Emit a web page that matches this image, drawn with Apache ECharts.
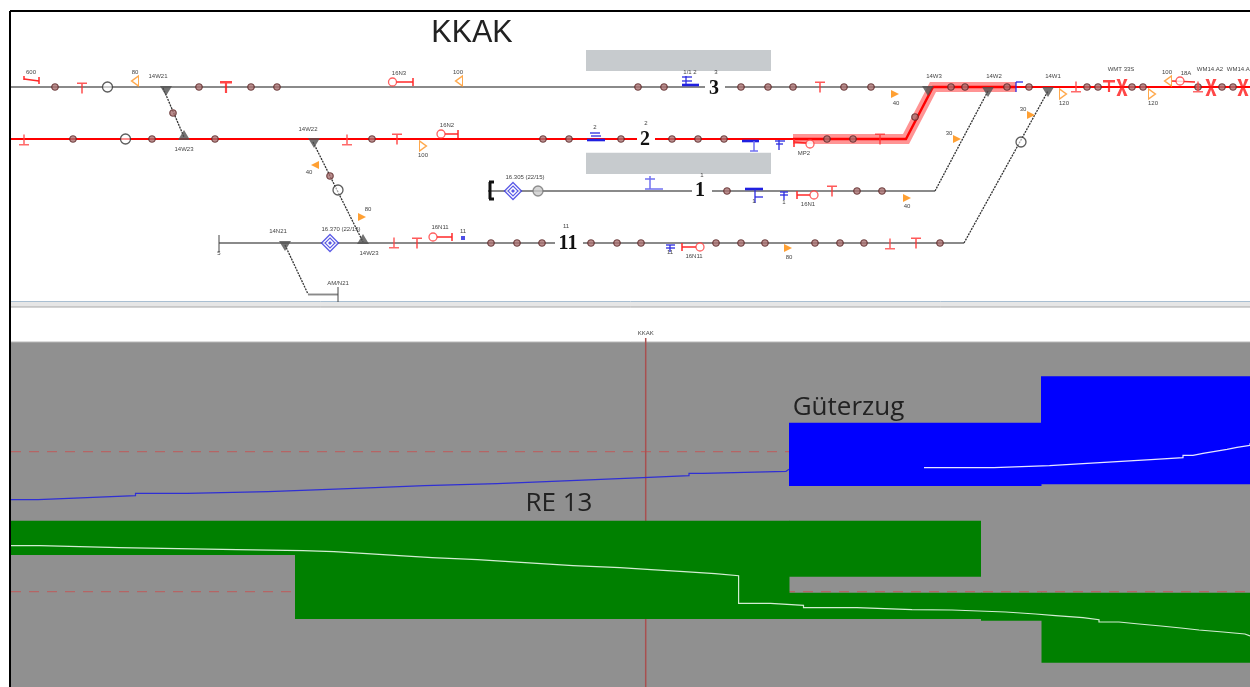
<!DOCTYPE html>
<html><head><meta charset="utf-8">
<script src="https://cdn.jsdelivr.net/npm/echarts@6/dist/echarts.min.js"></script>
<style>html,body{margin:0;padding:0;background:#fff}#c{width:1250px;height:687px;filter:blur(0.5px)}</style>
</head><body><div id="c"></div>
<script>
// ---------- lower panel: blocks [x1,y1,x2,y2] ----------
const panelRect=[[11,342,1250,687]];
const separatorRect=[[11,302,1250,307]];
const blueBlocks=[[789,422.7,1041.5,486],[1041,376.3,1250,484.3]];
const greenBlocks=[[11,520.7,295,555],[295,520.7,789.5,619],[789,520.7,981,576.7],[789,592.7,981.5,619],[981,592.7,1042,620.7],[1041.5,592.7,1250,662.7]];
const platforms=[[586,50,771,71],[586,152.7,771,174]];
// ---------- speed/position curves (stepped) ----------
const blueStepX=[11,38,87,135.5,187,268,322,375,424.5,497,546,595,643,689,703,786,789];
const blueStepY=[499.7,497.7,495.7,493.3,491.7,489.7,487.7,485.7,483.7,481.7,479.7,477.7,475.7,473.3,471.3,469.3,469.3];
const whiteStepX=[924,994,1049.5,1083,1117,1151,1183,1193,1203,1215,1227,1237,1250];
const whiteStepY=[467.7,465.7,463.7,461.7,459.7,457.7,455.3,453.3,451.3,449.3,447.3,445.3,443.3];
const greenStepX=[11,40,119,237,303,334,367,399,432,477.5,509,541,573,620,651,684,715,738.6,770.5,803.5,857,912,952,1005.6,1035.5,1055.5,1083,1099,1119,1139,1161,1181,1199,1223,1245,1250];
const greenStepY=[545.7,547.7,549.7,550.7,551.7,553.7,555.7,557.7,559.7,561.7,563.7,565.7,567.7,569.7,571.7,573.7,575.7,603.3,605.3,607.7,609.7,610,612,614,615.7,617.7,619.7,622,624,626,628,630,632,634,636,636];
const dashRows=[[[11,451.7],[1250,451.7]],[[11,591.7],[1250,591.7]]];
const stationLine=[[[645.7,338],[645.7,687]]];
// ---------- tracks ----------
const greyTracks=[[[11,87],[705,87]],[[725,87],[933,87]],[[488,191],[692,191]],[[712,191],[935,191]],[[219,243],[555,243]],[[583,243],[964,243]],[[308,294.5],[338,294.5]]];
const thinRed=[[[11,139],[637,139]],[[655,139],[793,139]],[[1015,87],[1250,87]]];
const routeRed=[[793,139],[906,139],[933,87],[1016,87]];
const dottedBranches=[[[163,88],[184,137]],[[313,142],[363,242]],[[285,245],[308,294]],[[935,191],[988,91]],[[964,243],[1048,91]]];
const endTicks=[[[219,235],[219,252]],[[338,287],[338,302]]];
// ---------- track symbols ----------
const axleCounters=[[55,87],[199,87],[251,87],[277,87],[638,87],[664,87],[741,87],[768,87],[793,87],[844,87],[871,87],[951,87],[965,87],[1007,87],[1029,87],[1087,87],[1098,87],[1132,87],[1143,87],[1198,87],[1222,87],[1233,87],
[73,139],[152,139],[215,139],[372,139],[543,139],[569,139],[621,139],[672,139],[698,139],[724,139],[827,139],[853,139],[915,117],[173,113],[330,176],
[727,191],[857,191],[882,191],[491,243],[517,243],[542,243],[591,243],[617,243],[641,243],[716,243],[741,243],[765,243],[815,243],[840,243],[864,243],[940,243]];
const darkRings=[[107.5,87],[125.5,139],[338,190],[1021,142]];
const greyRings=[[538,191]];
const blueDiamonds=[[513,191],[330,243]];
const triDown=[[166,91],[314,143],[285,246],[928,91],[988,92],[1048,92]];
const triUp=[[184,135],[363,239]];
const tThin=[[82,88],[397,139],[820,87],[832,191],[880,139],[417,243],[916,243]];
const tBold=[[226,87],[1109,86]];
const tInverted=[[24,140],[347,140],[394,243],[890,244],[1076,87],[1198,87]];
const crossMarks=[[1122,87.5],[1211,87.5],[1243,87.5]];
const signalHeads=[[392.5,82],[441,134],[433,237],[810,144],[814,195],[700,247],[1180,81]];
const signalArms=[[[396,82],[413,82]],[[413,78],[413,86]],[[445,134],[458,134]],[[458,130],[458,138]],[[437,237],[452,237]],[[452,233],[452,241]],[[794,142],[806,143]],[[794,139],[794,147]],[[797,195],[810,195]],[[797,191],[797,199]],[[682,247],[696,247]],[[682,243],[682,251]],[[24,79],[39,81]],[[24,76],[24,80]],[[39,77],[39,84]],[[1172,81],[1195,82]]];
const orangeOpenLeft=[[135,81],[459,81],[1168,81]];
const orangeOpenRight=[[423,146],[1063,94],[1152,94]];
const orangeFillLeft=[[315,165]];
const orangeFillRight=[[362,217],[788,248],[895,94],[957,139],[907,198],[1031,115]];
const blueThick=[[[587,140],[605,140]],[[682,85],[699,85]],[[742,141],[759,141]],[[745,189],[763,189]]];
const blueThin=[[[590,133],[600,133]],[[591,136],[601,136]],[[686,76],[686,84]],[[682,77],[692,77]],[[682,81],[692,81]],[[775,141],[785,141]],[[776,144],[783,144]],[[779,140],[779,150]],[[755,197],[763,197]],[[755,189],[755,203]],[[780,192],[788,192]],[[780,195],[788,195]],[[784,192],[784,200]],[[666,245],[675,245]],[[666,248],[675,248]],[[670,245],[670,252]],[[1016,82],[1016,92]],[[1016,82],[1023,82]]];
const bluePale=[[[645,189],[663,189]],[[650,176],[650,189]],[[645,179],[655,179]],[[750,151],[758,151]],[[754,141],[754,151]]];
const blueSquares=[[463,238]];
const buffers=[[[490,182],[490,199]],[[489,182],[494,182]],[[489,199],[494,199]]];
// ---------- texts ----------
const smallLabels=[[31,72,'600'],[135,72,'80'],[158,76,'14W21'],[399,73,'16N3'],[308,129,'14W22'],[184,149,'14W23'],[309,172,'40'],[368,209,'80'],[278,231,'14N21'],[341,229,'16.370 (22/15)'],[369,253,'14W23'],[219,253,'5'],[338,283,'AM/N21'],
[458,72,'100'],[690,72,'1/1 2'],[716,72,'3'],[447,125,'16N2'],[423,155,'100'],[595,127,'2'],[646,123,'2'],[804,153,'MP2'],[525,177,'16.305 (22/15)'],[808,204,'16N1'],[702,175,'1'],[440,227,'16N11'],[463,231,'11'],[566,226,'11'],[694,256,'16N11'],[670,252,'11'],[789,257,'80'],[754,201,'1'],[784,202,'1'],
[934,76,'14W3'],[994,76,'14W2'],[1053,76,'14W1'],[896,103,'40'],[949,133,'30'],[1023,109,'30'],[907,206,'40'],[1064,103,'120'],[1153,103,'120'],[1121,69,'WMT 33S'],[1167,72,'100'],[1186,73,'18A'],[1210,69,'WM14.A2'],[1240,69,'WM14.A3'],[645.7,333,'KKAK']];
const trackNumbers=[[714,89,'3'],[645,140,'2'],[700,191,'1'],[568,244,'11']];
const titleText=[[472,34,'KKAK']];
const trainNames=[[559,504,'RE 13'],[848.5,408,'Güterzug']];

// ---------- drawing helpers ----------
const common={silent:true,animation:false,coordinateSystem:'cartesian2d',clip:true};
function rects(arr,color,z){return {...common,type:'custom',z,data:arr,encode:{x:[0,2],y:[1,3]},
  renderItem(p,api){const a=api.coord([api.value(0),api.value(1)]),b=api.coord([api.value(2),api.value(3)]);
    return {type:'rect',shape:{x:a[0],y:a[1],width:b[0]-a[0],height:b[1]-a[1]},style:{fill:color}};}};}
function segs(arr,color,w,z,dash){return {...common,type:'custom',z,data:arr.map(s=>[s[0][0],s[0][1],s[1][0],s[1][1]]),encode:{x:[0,2],y:[1,3]},
  renderItem(p,api){const a=api.coord([api.value(0),api.value(1)]),b=api.coord([api.value(2),api.value(3)]);
    return {type:'line',shape:{x1:a[0],y1:a[1],x2:b[0],y2:b[1]},style:{stroke:color,lineWidth:w,lineDash:dash||null}};}};}
function poly(pts,color,w,z,step){return {...common,type:'line',z,data:pts,symbol:'none',step:step||false,lineStyle:{color,width:w,cap:'butt',join:'miter'}};}
function marks(arr,symbol,size,style,z){return {...common,type:'scatter',z,data:arr,symbol,symbolSize:size,itemStyle:style};}
function texts(arr,font,color,z){return {...common,type:'custom',z,data:arr.map(t=>[t[0],t[1]]),encode:{x:0,y:1},
  renderItem(p,api){const a=api.coord([api.value(0),api.value(1)]);
    return {type:'text',x:a[0],y:a[1],style:{text:arr[p.dataIndex][2],font,fill:color,align:'center',verticalAlign:'middle'}};}};}
const zip=(xs,ys)=>xs.map((x,i)=>[x,ys[i]]);
const pT='path://M0 0H10V1.6H5.8V12H4.2V1.6H0Z', pTB='path://M0 0H10V2.6H5.9V12H4.1V2.6H0Z', pTI='path://M4.2 0H5.8V10.4H10V12H0V10.4H4.2Z';
const pX='path://M0 0L3 0L5 6L7 0L10 0L6.5 8L10 16L7 16L5 10L3 16L0 16L3.5 8Z';
const pR='path://M0 0L10 5L0 10Z', pL='path://M10 0L0 5L10 10Z';
const hollow=(c,w)=>({color:'#fff',borderColor:c,borderWidth:w});
const solid=c=>({color:c});

const series=[
  rects(platforms,'#c7cbce',1),
  rects(separatorRect,'#e6e6e6',1),
  segs([[[11,301.5],[1250,301.5]]],'#a9bfd2',1,1),
  segs([[[11,307],[1250,307]]],'#a8a8a8',1,1),
  rects(panelRect,'#909090',1),
  segs([[[11,342],[1250,342]]],'#b8b8b8',1,2),
  segs(dashRows,'#b56565',1.2,2,[10,8]),
  segs(stationLine,'#a85050',1.5,2),
  rects(greenBlocks,'#008000',3),
  rects(blueBlocks,'#0000ff',3),
  poly(zip(blueStepX,blueStepY),'#2f2fd4',1.2,4,'end'),
  poly(zip(whiteStepX,whiteStepY),'#e6e6ff',1.2,4,'end'),
  poly(zip(greenStepX,greenStepY),'#d2ecd2',1.2,4,'end'),
  // tracks
  segs(greyTracks,'#8a8a8a',1.9,5),
  segs(thinRed,'#ff0000',2,6),
  poly(routeRed,'rgba(255,0,0,0.42)',10,5),
  poly(routeRed,'#ff0000',2.4,6),
  segs(dottedBranches,'#333333',1.3,5,[2,1]),
  segs(endTicks,'#444444',1,5),
  marks(triDown,'path://M0 0H10L5 10Z',[12,10],solid('#505050'),7),
  marks(triUp,'path://M5 0L10 10H0Z',[12,10],solid('#505050'),7),
  marks(axleCounters,'circle',6.5,{color:'#a87070',borderColor:'#5a2626',borderWidth:1.2},8),
  marks(darkRings,'circle',10,{color:'rgba(255,255,255,0.7)',borderColor:'#333',borderWidth:1.3},8),
  marks(greyRings,'circle',10,{color:'#cccccc',borderColor:'#777',borderWidth:1.3},8),
  marks(blueDiamonds,'diamond',17,hollow('#3232e0',1.3),8),
  marks(blueDiamonds,'diamond',10,hollow('#3232e0',1.1),9),
  marks(blueDiamonds,'diamond',4,solid('#3232e0'),10),
  marks(tThin,pT,[10,11],solid('#ff3030'),8),
  marks(tBold,pTB,[12,12],solid('#ff1818'),8),
  marks(tInverted,pTI,[10,11],solid('#ff4545'),8),
  marks(crossMarks,pX,[11,17],solid('#ff1818'),8),
  segs(signalArms,'#ff2828',1.5,8),
  marks(signalHeads,'circle',8,hollow('#ff3838',1.3),8),
  marks(orangeOpenLeft,pL,[7,10],hollow('#ff9420',1.2),8),
  marks(orangeOpenRight,pR,[7,10],hollow('#ff9420',1.2),8),
  marks(orangeFillLeft,pL,[8,8],solid('#ff8800'),8),
  marks(orangeFillRight,pR,[8,8],solid('#ff8800'),8),
  segs(blueThick,'#2020e0',2.6,8),
  segs(blueThin,'#2a2ae0',1.3,8),
  segs(bluePale,'#7070f0',1.5,8),
  marks(blueSquares,'rect',4,solid('#2020e0'),8),
  segs(buffers,'#111111',3,8),
  texts(smallLabels,'6px "Liberation Sans"','#444444',11),
  texts(trackNumbers,'bold 20px "Liberation Serif"','#111111',11),
  texts(titleText,'30.5px "Liberation Sans"','#222222',11),
  texts(trainNames,'26px "Open Sans"','#222222',11),
  segs([[[10,11],[1250,11]],[[10,11],[10,687]]],'#000000',2,12)
];
const chart=echarts.init(document.getElementById('c'),null,{renderer:'canvas'});
chart.setOption({animation:false,backgroundColor:'#ffffff',
  grid:{left:0,right:0,top:0,bottom:0},
  xAxis:{type:'value',min:0,max:1250,show:false},
  yAxis:{type:'value',min:0,max:687,inverse:true,show:false},
  series});
</script></body></html>
